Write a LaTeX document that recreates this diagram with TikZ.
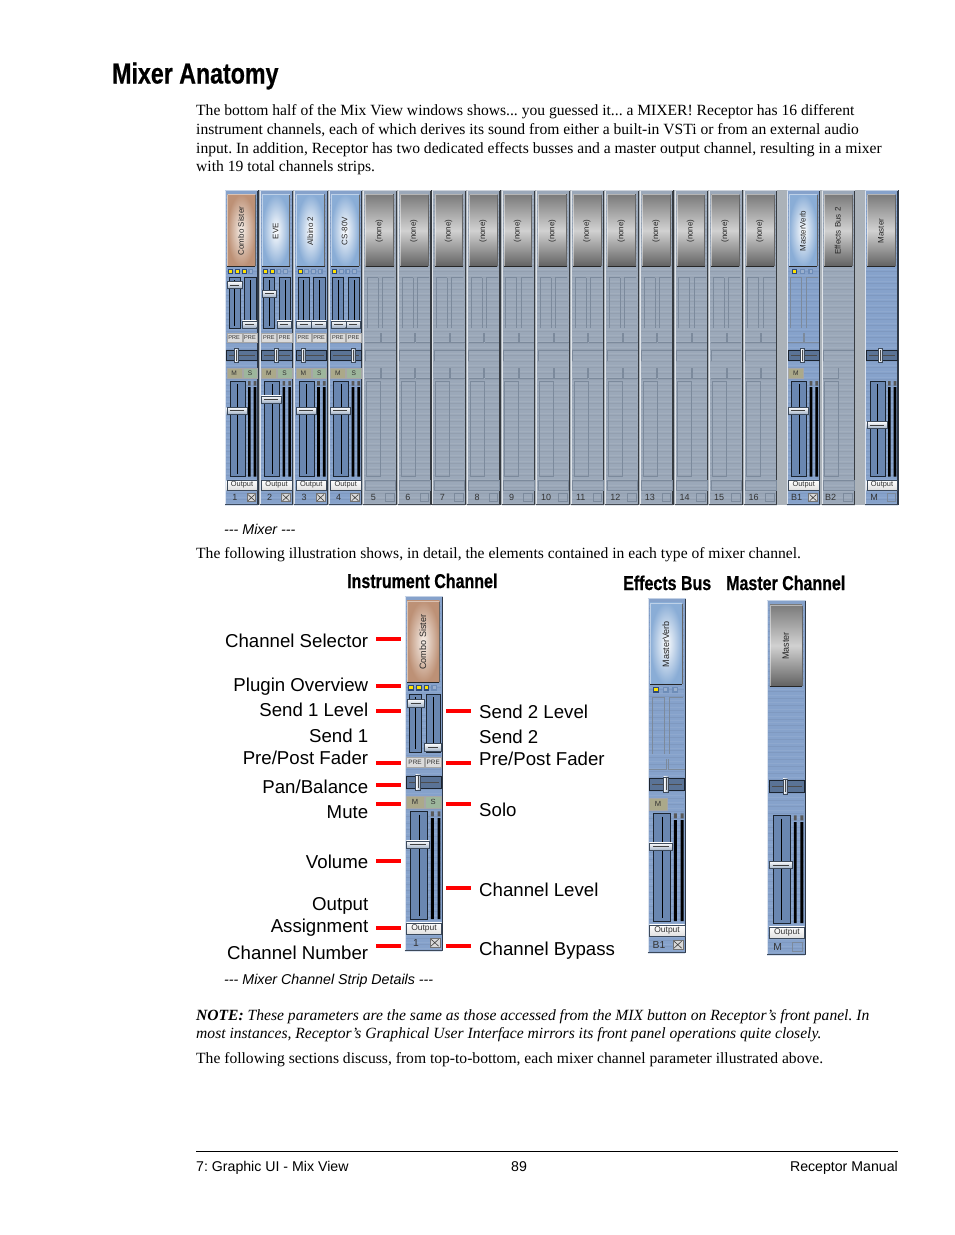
\documentclass[tikz,border=0pt]{standalone}
\usepackage{fontspec}
\setmainfont{Liberation Serif}
\setsansfont{Liberation Sans}
\newfontfamily\headfont[FakeStretch=0.8,FakeBold=0.6]{Liberation Sans Bold}
\usetikzlibrary{calc}
\frenchspacing
\newcommand\fsz[1]{\fontsize{#1}{#1}\selectfont}
\definecolor{stripblue}{HTML}{86A2CB}
\definecolor{stripgrey}{HTML}{9BA8B9}
\definecolor{gapgrey}{HTML}{ABB2B9}
\definecolor{slotblue}{HTML}{6A87B1}
\definecolor{ghostline}{HTML}{7C8A9C}
\definecolor{darkline}{HTML}{1B2430}
\definecolor{mutecol}{HTML}{ABA98A}
\definecolor{solocol}{HTML}{9DB69C}
\definecolor{HTMLblue}{HTML}{8AADD6}
\definecolor{HTMLorin}{HTML}{F6EEE8}
\definecolor{HTMLorout}{HTML}{BD9176}
\definecolor{HTMLhandle}{HTML}{A3B3C8}
\definecolor{HTMLhandled}{HTML}{3C4A5C}
\definecolor{indon}{HTML}{2F4A78}
\definecolor{indoff}{HTML}{6E8DB8}
\tikzset{
 x=1pt,y=-1pt,
 body/.style={font=\rmfamily\fsz{15.59},anchor=base west,inner sep=0,text=black},
 lab/.style={font=\sffamily\fsz{18.65},inner sep=0,text=black},
 labl/.style={lab,anchor=base east},
 labr/.style={lab,anchor=base west},
 capt/.style={font=\sffamily\itshape\fsz{14.25},anchor=base west,inner sep=0},
 foot/.style={font=\sffamily\fsz{14.15},inner sep=0},
 head/.style={font=\headfont\fsz{20},inner sep=0,anchor=base west},
 redbar/.style={draw=red,line width=4pt},
 faceblue/.style={inner color=white,outer color=HTMLblue},
 facegrey/.style={shading=axis,top color=black!52,bottom color=black!62,middle color=black!18},
 faceorange/.style={inner color=HTMLorin,outer color=HTMLorout},
 btnlabel/.style={rotate=90,font=\sffamily\fsz{8},inner sep=0,text=black!85},
 tiny/.style={font=\sffamily\fsz{#1},inner sep=0,text=black!80},
 handlefill/.style={top color=white,bottom color=HTMLhandle,draw=HTMLhandled,line width=.4pt},
 ghost/.style={draw=ghostline,line width=.6pt},
 slot/.style={fill=slotblue,draw=darkline,line width=.7pt},
}
% ---- strip parts, in local coordinates: 33.3 wide, 315 high
\newcommand\mxbody[1]{%
 \fill[#1] (0,0) rectangle (33.3,315);
 \foreach \yy in {7,13,...,313}{\draw[white,opacity=.07,line width=.8pt] (1,\yy)--(32,\yy);\draw[black,opacity=.05,line width=.8pt] (1,\yy+2.5)--(32,\yy+2.5);}
 \draw[white!70!#1,line width=.8pt] (.4,0)--(.4,315)--(33,315);
 \draw[#1!35!black,line width=1.2pt] (33,0)--(33,315);
 \draw[#1!45!black,line width=.9pt] (0,314.6)--(33.3,314.6);
 \draw[white!50!#1,line width=.7pt] (0,.3)--(33.3,.3);
}
\newcommand\mxbtn[2]{%
 \fill[#1] (2.3,4.3) rectangle (30.3,76.7);
 \draw[white,opacity=.45,line width=1pt] (2.6,76)--(2.6,4.8)--(30,4.8);
 \draw[black!85,line width=1pt] (2.3,76.4)--(30.3,76.4);
 \draw[black!60,line width=.6pt] (30.1,5)--(30.1,76);
 \node[btnlabel] (\mxp-btn) at (16,41) {#2};
}
\newcommand\mxon[1]{\fill[indon] (#1,79) rectangle ++(5,5);\fill[yellow!85!orange] (#1+1,80.2) rectangle ++(3,2.6);}
\newcommand\mxoff[1]{\fill[indoff] (#1,79) rectangle ++(5,5);\fill[indoff!70!white] (#1+1.2,80.2) rectangle ++(2.6,2.6);}
\newcommand\mxhandle[3]{%
 \filldraw[handlefill] (#1,#3-3.4) rectangle (#2,#3+3.4);
 \draw[black!75,line width=.7pt] (#1+3,#3)--(#2-3,#3);
}
\newcommand\mxsends[2]{%
 \filldraw[slot] (4,87.7) rectangle (15,138.3);
 \filldraw[slot] (19.3,87.7) rectangle (31,138.3);
 \draw[black,line width=.6pt] (9.5,90)--(9.5,136) (25.2,90)--(25.2,136);
 \mxhandle{2.3}{17}{#1}
 \mxhandle{17.3}{31.7}{#2}
}
\newcommand\mxpre{%
 \filldraw[fill=black!14,draw=black!35,line width=.4pt] (1.7,142.7) rectangle (16.7,152.3);
 \filldraw[fill=black!14,draw=black!35,line width=.4pt] (17.7,142.7) rectangle (32.3,152.3);
 \node[tiny=5.6] (\mxp-prea) at (9.2,147.5) {PRE};
 \node[tiny=5.6] (\mxp-preb) at (25,147.5) {PRE};
}
\newcommand\mxpan[1]{%
 \filldraw[fill=slotblue!85!black,draw=darkline,line width=.8pt] (1.7,160) rectangle (32.3,170.7);
 \draw[black!70,line width=.5pt] (4,165.3)--(30,165.3);
 \filldraw[left color=white,right color=HTMLhandle,draw=HTMLhandled,line width=.5pt] (#1-2,158.6) rectangle (#1+2,172);
 \draw[black!70,line width=.5pt] (#1,160)--(#1,170.5);
}
\newcommand\mxmute{%
 \filldraw[fill=mutecol,draw=black!35,line width=.4pt] (1.7,177.7) rectangle (16.7,188.3);
 \node[tiny=6.6] (\mxp-m) at (9.2,183) {M};
}
\newcommand\mxsolo{%
 \filldraw[fill=solocol,draw=black!35,line width=.4pt] (17.7,177.7) rectangle (32.3,188.3);
 \node[tiny=6.6] (\mxp-s) at (25,183) {S};
}
\newcommand\mxvol[1]{%
 \filldraw[slot] (5,191) rectangle (20,286.7);
 \draw[black,line width=.7pt] (12.5,194)--(12.5,283.5);
 \fill[black] (23,197) rectangle (25.6,286.7) (28.7,197) rectangle (31.3,286.7);
 \fill[black!65] (23,191) rectangle (25.6,195.5) (28.7,191) rectangle (31.3,195.5);
 \mxhandle{1.7}{21.7}{#1}
}
\newcommand\mxoutput{%
 \filldraw[top color=white,bottom color=black!12,draw=HTMLhandled,line width=.3pt] (1.7,290) rectangle (32.3,300);
 \node[tiny=7.4] (\mxp-out) at (17,295) {Output};
}
\newcommand\mxnum[2]{\node[tiny=9] (\mxp-num) at (#1,307.6) {#2};}
\newcommand\mxbypass{%
 \filldraw[fill=black!15,draw=black!55,line width=.5pt] (22,303.5) rectangle (30.7,311.7);
 \draw[black!75,line width=.6pt] (23,304.5)--(29.7,310.7) (29.7,304.5)--(23,310.7);
}
\newcommand\mxghostbox{\draw[ghost] (22,303.5) rectangle (30.7,311.7);}
\newcommand\mxghostsends{%
 \draw[ghost] (4,138.3)--(4,87.7)--(15,87.7) (15,87.7)--(15,138.3);
 \draw[ghost] (19.3,138.3)--(19.3,87.7)--(31,87.7);
}
\newcommand\mxghostpre{%
 \draw[ghost] (1.7,152.3)--(16.7,152.3)--(16.7,142.7) (17.7,152.3)--(17.7,142.7) (17.7,152.3)--(32.3,152.3);
}
\newcommand\mxghostpan{\draw[ghost] (1.7,170.7)--(1.7,160)--(32.3,160);}
\newcommand\mxghostms{\draw[ghost] (1.7,188.3)--(16.7,188.3)--(16.7,177.7) (17.7,188.3)--(17.7,177.7) (17.7,188.3)--(32.3,188.3);}
\newcommand\mxghostm{\draw[ghost] (1.7,188.3)--(16.7,188.3)--(16.7,177.7);}
\newcommand\mxghostvol{\draw[ghost] (3,286.7)--(3,191)--(17,191)--(17,286.7);\draw[ghost] (3,286.7)--(17,286.7);}
\newcommand\mxghostout{\draw[ghost] (1.7,300)--(1.7,290)--(32.3,290)--(32.3,300)--cycle;}
% ---- whole strips
\newcommand\mxactive[8]{% prefix, shade, label, inds, send1, pan, vol, num
 \def\mxp{#1}%
 \mxbody{stripblue}\mxbtn{#2}{#3}#4\mxsends{#5}{134.3}\mxpre\mxpan{#6}\mxmute\mxsolo\mxvol{#7}\mxoutput\mxnum{10}{#8}\mxbypass
}
\newcommand\mxnone[2]{%
 \def\mxp{#1}%
 \mxbody{stripgrey}\mxbtn{facegrey}{(none)}\mxghostsends\mxghostpre\mxghostpan\mxghostms\mxghostvol\mxghostout\mxnum{10}{#2}\mxghostbox
}
\newcommand\mxbus[1]{%
 \def\mxp{#1}%
 \mxbody{stripblue}\mxbtn{faceblue}{MasterVerb}\mxon{5}\mxoff{13.3}\mxoff{21.7}\mxghostsends\mxghostpre\mxpan{16}\mxmute\mxvol{220.7}\mxoutput\mxnum{10}{B1}\mxbypass
}
\newcommand\mxbustwo[1]{%
 \def\mxp{#1}%
 \mxbody{stripgrey}\mxbtn{facegrey}{Effects Bus 2}\mxghostpan\mxghostm\mxghostvol\mxghostout\mxnum{9}{B2}\mxghostbox
}
\newcommand\mxmaster[1]{%
 \def\mxp{#1}%
 \mxbody{stripblue}\mxbtn{facegrey}{Master}\mxpan{15.7}\mxvol{235}\mxoutput\mxnum{9}{M}\mxghostbox
}
\begin{document}
\begin{tikzpicture}
\useasboundingbox (0,0) rectangle (954,1235);
\fill[white] (0,0) rectangle (954,1235);
\node[font=\headfont\fsz{29},inner sep=0,anchor=base west] (title) at (112,83.5) {Mixer Anatomy};
% body text
\node[body] (p1) at (196,115) {The bottom half of the Mix View windows shows... you guessed it... a MIXER! Receptor has 16 different};
\node[body] (p2) at (196,134) {instrument channels, each of which derives its sound from either a built-in VSTi or from an external audio};
\node[body] (p3) at (196,153) {input. In addition, Receptor has two dedicated effects busses and a master output channel, resulting in a mixer};
\node[body] (p4) at (196,171) {with 19 total channels strips.};
% mixer
\fill[gapgrey] (225,190) rectangle (898,505);
\begin{scope}[shift={(225,190)}]\mxactive{s1}{faceorange}{Combo Sister}{\mxon{3.3}\mxon{10}\mxon{16.7}\mxoff{23.3}}{95}{11.7}{220.7}{1}\end{scope}
\begin{scope}[shift={(259.6,190)}]\mxactive{s2}{faceblue}{EVE}{\mxon{3.3}\mxon{10}\mxoff{16.7}\mxoff{23.3}}{103.7}{16.7}{209.3}{2}\end{scope}
\begin{scope}[shift={(294.2,190)}]\mxactive{s3}{faceblue}{Albino 2}{\mxon{3.3}\mxoff{10}\mxoff{16.7}\mxoff{23.3}}{134.3}{9}{220.7}{3}\end{scope}
\begin{scope}[shift={(328.7,190)}]\mxactive{s4}{faceblue}{CS-80V}{\mxon{3.3}\mxoff{10}\mxoff{16.7}\mxoff{23.3}}{134.3}{24.3}{220.7}{4}\end{scope}
\foreach \k in {5,...,16}{
 \pgfmathsetmacro\sx{225+(\k-1)*34.58}
 \begin{scope}[shift={(\sx,190)}]\mxnone{s\k}{\k}\end{scope}
}
\begin{scope}[shift={(786.7,190)}]\mxbus{s17}\end{scope}
\begin{scope}[shift={(821.7,190)}]\mxbustwo{s18}\end{scope}
\begin{scope}[shift={(865,190)}]\mxmaster{s19}\end{scope}
\node[capt] (c1) at (224,534) {-{}-{}- Mixer -{}-{}-};
\node[body] (p5) at (196,558) {The following illustration shows, in detail, the elements contained in each type of mixer channel.};
% headings
\node[head] (h1) at (347,588) {Instrument Channel};
\node[head] (h2) at (623,590) {Effects Bus};
\node[head] (h3) at (726,590) {Master Channel};
% detail strips
\begin{scope}[shift={(404.5,596)},xscale=1.15,yscale=1.127,transform shape]\mxactive{d1}{faceorange}{Combo Sister}{\mxon{3.3}\mxon{10}\mxon{16.7}\mxoff{23.3}}{95}{11.7}{220.7}{1}\end{scope}
\begin{scope}[shift={(647.5,598)},xscale=1.15,yscale=1.127,transform shape]\mxbus{d2}\end{scope}
\begin{scope}[shift={(767.3,600)},xscale=1.15,yscale=1.127,transform shape]\mxmaster{d3}\end{scope}
% red bars
\foreach \n/\y in {a/638.7,b/686,c/711.3,d/763,e/785.3,f/804.3,g/861.3,h/928.3,i/945.7}{
 \coordinate (l\n1) at (376,\y); \coordinate (l\n2) at (401,\y);
 \draw[redbar] (l\n1)--(l\n2);
}
\foreach \n/\y in {a/711.3,b/763,c/803.7,d/887.7,e/945.7}{
 \coordinate (r\n1) at (446,\y); \coordinate (r\n2) at (471,\y);
 \draw[redbar] (r\n1)--(r\n2);
}
% labels
\node[labl] (la) at (368.4,647) {Channel Selector};
\node[labl] (lb) at (368.4,691) {Plugin Overview};
\node[labl] (lc) at (368.4,716) {Send 1 Level};
\node[labl] (ld) at (368.4,742) {Send 1};
\node[labl] (le) at (368.4,764) {Pre/Post Fader};
\node[labl] (lf) at (368.4,793) {Pan/Balance};
\node[labl] (lg) at (368.4,818) {Mute};
\node[labl] (lh) at (368.4,868) {Volume};
\node[labl] (li) at (368.4,910) {Output};
\node[labl] (lj) at (368.4,932) {Assignment};
\node[labl] (lk) at (368.4,959) {Channel Number};
\node[labr] (ra) at (479,718) {Send 2 Level};
\node[labr] (rb) at (479,743) {Send 2};
\node[labr] (rc) at (479,765) {Pre/Post Fader};
\node[labr] (rd) at (479,816) {Solo};
\node[labr] (re) at (479,896) {Channel Level};
\node[labr] (rf) at (479,955) {Channel Bypass};
\node[capt] (c2) at (224,984) {-{}-{}- Mixer Channel Strip Details -{}-{}-};
% note
\node[body] (n1) at (196,1020) {\textbf{\textit{NOTE:}} \textit{These parameters are the same as those accessed from the MIX button on Receptor’s front panel. In}};
\node[body] (n2) at (196,1038) {\textit{most instances, Receptor’s Graphical User Interface mirrors its front panel operations quite closely.}};
\node[body] (n3) at (196,1063) {The following sections discuss, from top-to-bottom, each mixer channel parameter illustrated above.};
% footer
\coordinate (fa) at (196,1151); \coordinate (fb) at (898,1151);
\draw[black,line width=.8pt] (fa)--(fb);
\node[foot,anchor=base west] (f1) at (196,1171) {7: Graphic UI - Mix View};
\node[foot,anchor=base] (f2) at (519,1171) {89};
\node[foot,anchor=base east] (f3) at (898,1171) {Receptor Manual};
\end{tikzpicture}
\end{document}
